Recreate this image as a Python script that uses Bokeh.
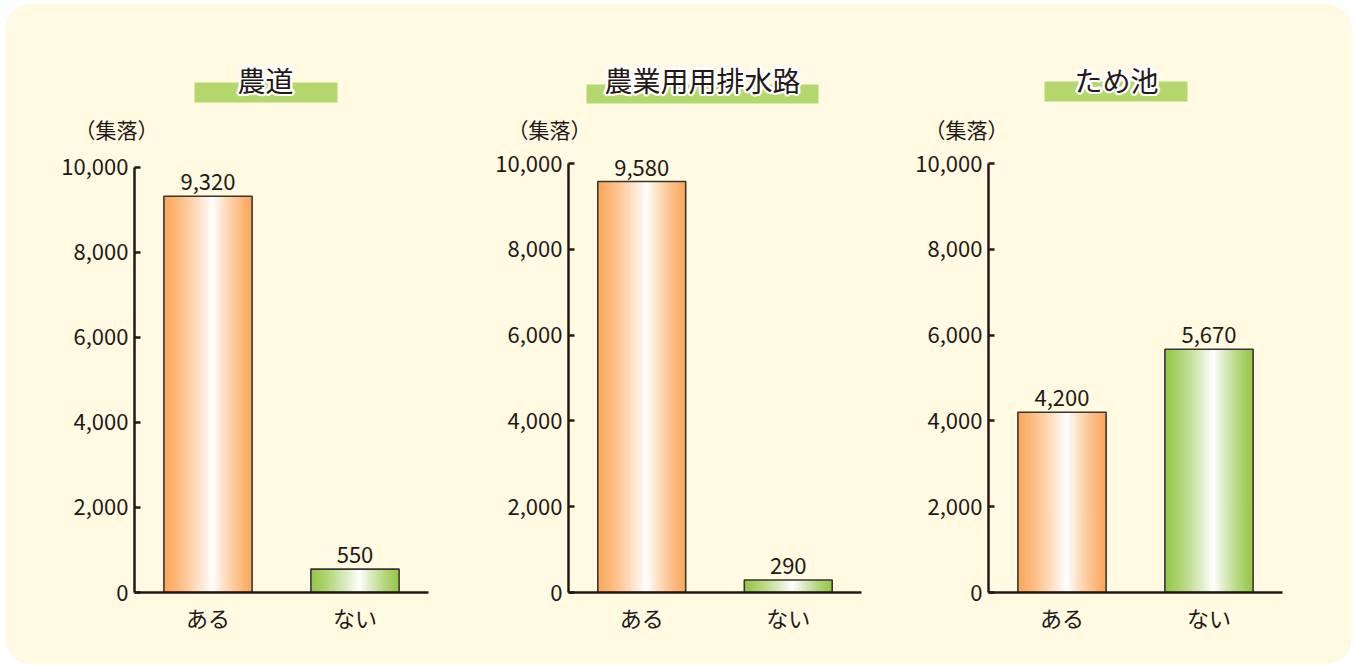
from bokeh.plotting import figure
from bokeh.layouts import row, column
from bokeh.models import (Range1d, FixedTicker, NumeralTickFormatter, Label, LabelSet,
                          ColumnDataSource)
from bokeh.core.properties import value
from bokeh.embed import file_html
from bokeh.resources import INLINE
import math

# ---------------- data ----------------
categories = ["ある", "ない"]
titles = ["農道", "農業用用排水路", "ため池"]
values_nodo = [9320, 550]
values_haisui = [9580, 290]
values_tameike = [4200, 5670]
y_ticks = [0, 2000, 4000, 6000, 8000, 10000]
unit_label = "（集落）"

# ---------------- style ----------------
BG = "#FFFAE1"
INK = "#231815"
BANNER = "#B5D86E"
BAR_EDGES = [(251, 168, 91), (150, 199, 74)]
FONT = "Noto Sans CJK JP"
BAR_W = 0.6
N_SLICES = 48

# layout (page pixels): whole block from x=5..1352, y=4..664
X0, Y0, X1, Y1 = 5, 4, 1352, 664
SPLIT = 145          # header strip above, charts below
panels = [
    dict(x0=5, w=450, L=134, R=428, zero=594, top=167,
         banner=(194, 337, 82, 102), title_xy=(265, 79), unit_xy=(116, 128)),
    dict(x0=455, w=425, L=568, R=861, zero=592, top=163,
         banner=(586, 818, 84, 103), title_xy=(702, 79), unit_xy=(549, 128)),
    dict(x0=880, w=472, L=988, R=1282, zero=592, top=163,
         banner=(1044, 1187, 81, 101), title_xy=(1116, 79), unit_xy=(966, 128)),
]


def grad_colors(edge, n):
    cols = []
    peak = 0.55
    for k in range(n):
        t = (k + 0.5) / n
        f = 1 - abs(t - peak) / (peak if t < peak else 1 - peak)
        f = max(0.0, min(1.0, f)) ** 1.25
        c = tuple(int(round(e + (255 - e) * f)) for e in edge)
        cols.append("#%02x%02x%02x" % c)
    return cols


def make_chart(vals, spec):
    L, R, zero, top = spec["L"], spec["R"], spec["zero"], spec["top"]
    y_end = 10000 * (zero - SPLIT) / (zero - top)
    p = figure(width=spec["w"], height=Y1 - SPLIT,
               x_range=Range1d(0, len(categories)), y_range=Range1d(0, y_end),
               output_backend="svg", toolbar_location=None, tools="",
               min_border_left=L - spec["x0"], min_border_right=spec["x0"] + spec["w"] - R,
               min_border_top=0, min_border_bottom=Y1 - zero)
    p.background_fill_color = None
    p.border_fill_color = None
    p.outline_line_color = None
    p.xgrid.visible = False
    p.ygrid.visible = False

    # gradient bars
    xs = [i + 0.5 for i in range(len(categories))]
    for i, v in enumerate(vals):
        cols = grad_colors(BAR_EDGES[i], N_SLICES)
        left0 = xs[i] - BAR_W / 2
        dw = BAR_W / N_SLICES
        lefts = [left0 + k * dw for k in range(N_SLICES)]
        rights = [min(l + dw * 1.35, left0 + BAR_W) for l in lefts]
        p.quad(left=lefts, right=rights, bottom=[0] * N_SLICES, top=[v] * N_SLICES,
               fill_color=cols, line_color=None)
    p.quad(left=[x - BAR_W / 2 for x in xs], right=[x + BAR_W / 2 for x in xs],
           bottom=[0] * len(vals), top=vals, fill_color=None,
           line_color="#3a3530", line_width=1.6)

    # value labels
    src = ColumnDataSource(dict(x=xs, y=vals, t=[f"{v:,}" for v in vals]))
    p.add_layout(LabelSet(x="x", y="y", text="t", source=src, text_align="center",
                          text_baseline="alphabetic", y_offset=6,
                          text_font=value(FONT), text_font_size="22px", text_color=INK))

    # axes
    ax = p.yaxis[0]
    ax.ticker = FixedTicker(ticks=y_ticks)
    ax.formatter = NumeralTickFormatter(format="0,0")
    ax.bounds = (0, 10000)
    ax.major_tick_in = 6
    ax.major_tick_out = 0
    ax.minor_tick_in = 0
    ax.minor_tick_out = 0
    ax.major_tick_line_width = 2.5
    ax.major_tick_line_color = INK
    ax.axis_line_width = 2.5
    ax.axis_line_color = INK
    ax.major_label_standoff = 6
    ax.major_label_text_font = FONT
    ax.major_label_text_font_size = "22px"
    ax.major_label_text_color = INK

    bx = p.xaxis[0]
    bx.ticker = FixedTicker(ticks=xs)
    bx.major_label_overrides = {x: c for x, c in zip(xs, categories)}
    bx.major_tick_in = 0
    bx.major_tick_out = 0
    bx.minor_tick_in = 0
    bx.minor_tick_out = 0
    bx.axis_line_width = 2.5
    bx.axis_line_color = INK
    bx.major_label_standoff = 8
    bx.major_label_text_font = FONT
    bx.major_label_text_font_size = "22px"
    bx.major_label_text_color = INK
    return p


# header strip with titles, green banners and unit labels
h = figure(width=X1 - X0, height=SPLIT - Y0,
           x_range=Range1d(X0, X1), y_range=Range1d(SPLIT, Y0),
           x_axis_type=None, y_axis_type=None,
           output_backend="svg", toolbar_location=None, tools="",
           min_border=0)
h.background_fill_color = None
h.border_fill_color = None
h.outline_line_color = None
h.grid.visible = False

for title, spec in zip(titles, panels):
    bl, br, bt, bb = spec["banner"]
    h.quad(left=[bl], right=[br], top=[bt], bottom=[bb], fill_color=BANNER, line_color=None)
    tx, ty = spec["title_xy"]
    for k in range(16):
        a = 2 * math.pi * k / 16
        h.add_layout(Label(x=tx, y=ty, x_offset=2.4 * math.cos(a), y_offset=2.4 * math.sin(a),
                           text=title, text_align="center", text_baseline="middle",
                           text_font=FONT, text_font_size="28px", text_color="white"))
    h.add_layout(Label(x=tx, y=ty, text=title, text_align="center", text_baseline="middle",
                       text_font=FONT, text_font_size="28px", text_color=INK))
    ux, uy = spec["unit_xy"]
    h.add_layout(Label(x=ux, y=uy, text=unit_label, text_align="center", text_baseline="middle",
                       text_font=FONT, text_font_size="21px", text_color=INK))

p1 = make_chart(values_nodo, panels[0])
p2 = make_chart(values_haisui, panels[1])
p3 = make_chart(values_tameike, panels[2])

layout = column(h, row(p1, p2, p3),
                styles={"background-color": BG, "border-radius": "26px",
                        "margin": "4px 0 0 5px"})

open("out.html", "w").write(file_html(layout, INLINE))
